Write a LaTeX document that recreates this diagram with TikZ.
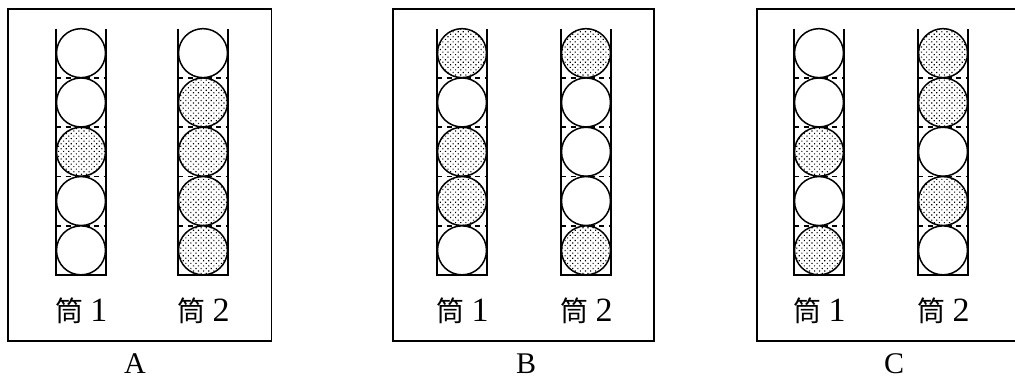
\documentclass[tikz,border=0pt]{standalone}
\usepackage{fontspec}
\setmainfont{Liberation Serif}
\newfontfamily\cjk{Noto Sans CJK SC}
\usetikzlibrary{patterns.meta}
\tikzset{
  panelbox/.style={draw, line width=1.8pt},
  wall/.style={draw, line width=1.8pt},
  sep/.style={draw, line width=1.6pt, dash pattern=on 5pt off 4.5pt},
  whiteball/.style={draw, line width=1.5pt, fill=white},
  dotball/.style={draw, line width=1.5pt, fill=white, postaction={pattern={Dots[distance=3.6pt, radius=0.8pt, angle=45]}}},
  tubelbl/.style={inner sep=0pt, font=\fontsize{34}{40}\selectfont},
  caplbl/.style={inner sep=0pt, font=\fontsize{30}{36}\selectfont},
}
\newcommand\mytube[8]{%
  \draw[wall] (#1,28.5) -- (#1,275) -- (#1+50,275) -- (#1+50,28.5);
  \foreach \k in {1,...,4} \draw[sep] (#1,28.5+\k*49.3) -- (#1+50,28.5+\k*49.3);
  \foreach \k/\f in {0/#2,1/#3,2/#4,3/#5,4/#6}{%
    \ifnum\f=1
      \draw[dotball] (#1+25,28.5+24.65+\k*49.3) circle[radius=24.5pt];
    \else
      \draw[whiteball] (#1+25,28.5+24.65+\k*49.3) circle[radius=24.5pt];
    \fi}
  \node[tubelbl] (#8) at (#1+25.5,311) {{\cjk\fontsize{28}{32}\selectfont 筒}\hspace{7pt}#7};
}
\begin{document}
\begin{tikzpicture}[x=1pt,y=-1pt]
\useasboundingbox (0,0) rectangle (1015,383);
% panel A
\draw[panelbox] (8,9) rectangle (271.5,341);
\mytube{56}{0}{0}{1}{0}{0}{1}{lA1}
\mytube{178}{0}{1}{1}{1}{1}{2}{lA2}
\node[caplbl] (capA) at (135,364) {A};
% panel B
\draw[panelbox] (393,9) rectangle (654,341);
\mytube{437}{1}{0}{1}{1}{0}{1}{lB1}
\mytube{561}{1}{0}{0}{0}{1}{2}{lB2}
\node[caplbl] (capB) at (526,364) {B};
% panel C
\draw[panelbox] (757,9) rectangle (1020,341);
\mytube{794}{0}{0}{1}{0}{1}{1}{lC1}
\mytube{918}{1}{1}{0}{1}{0}{2}{lC2}
\node[caplbl] (capC) at (894,364) {C};
\end{tikzpicture}
\end{document}
